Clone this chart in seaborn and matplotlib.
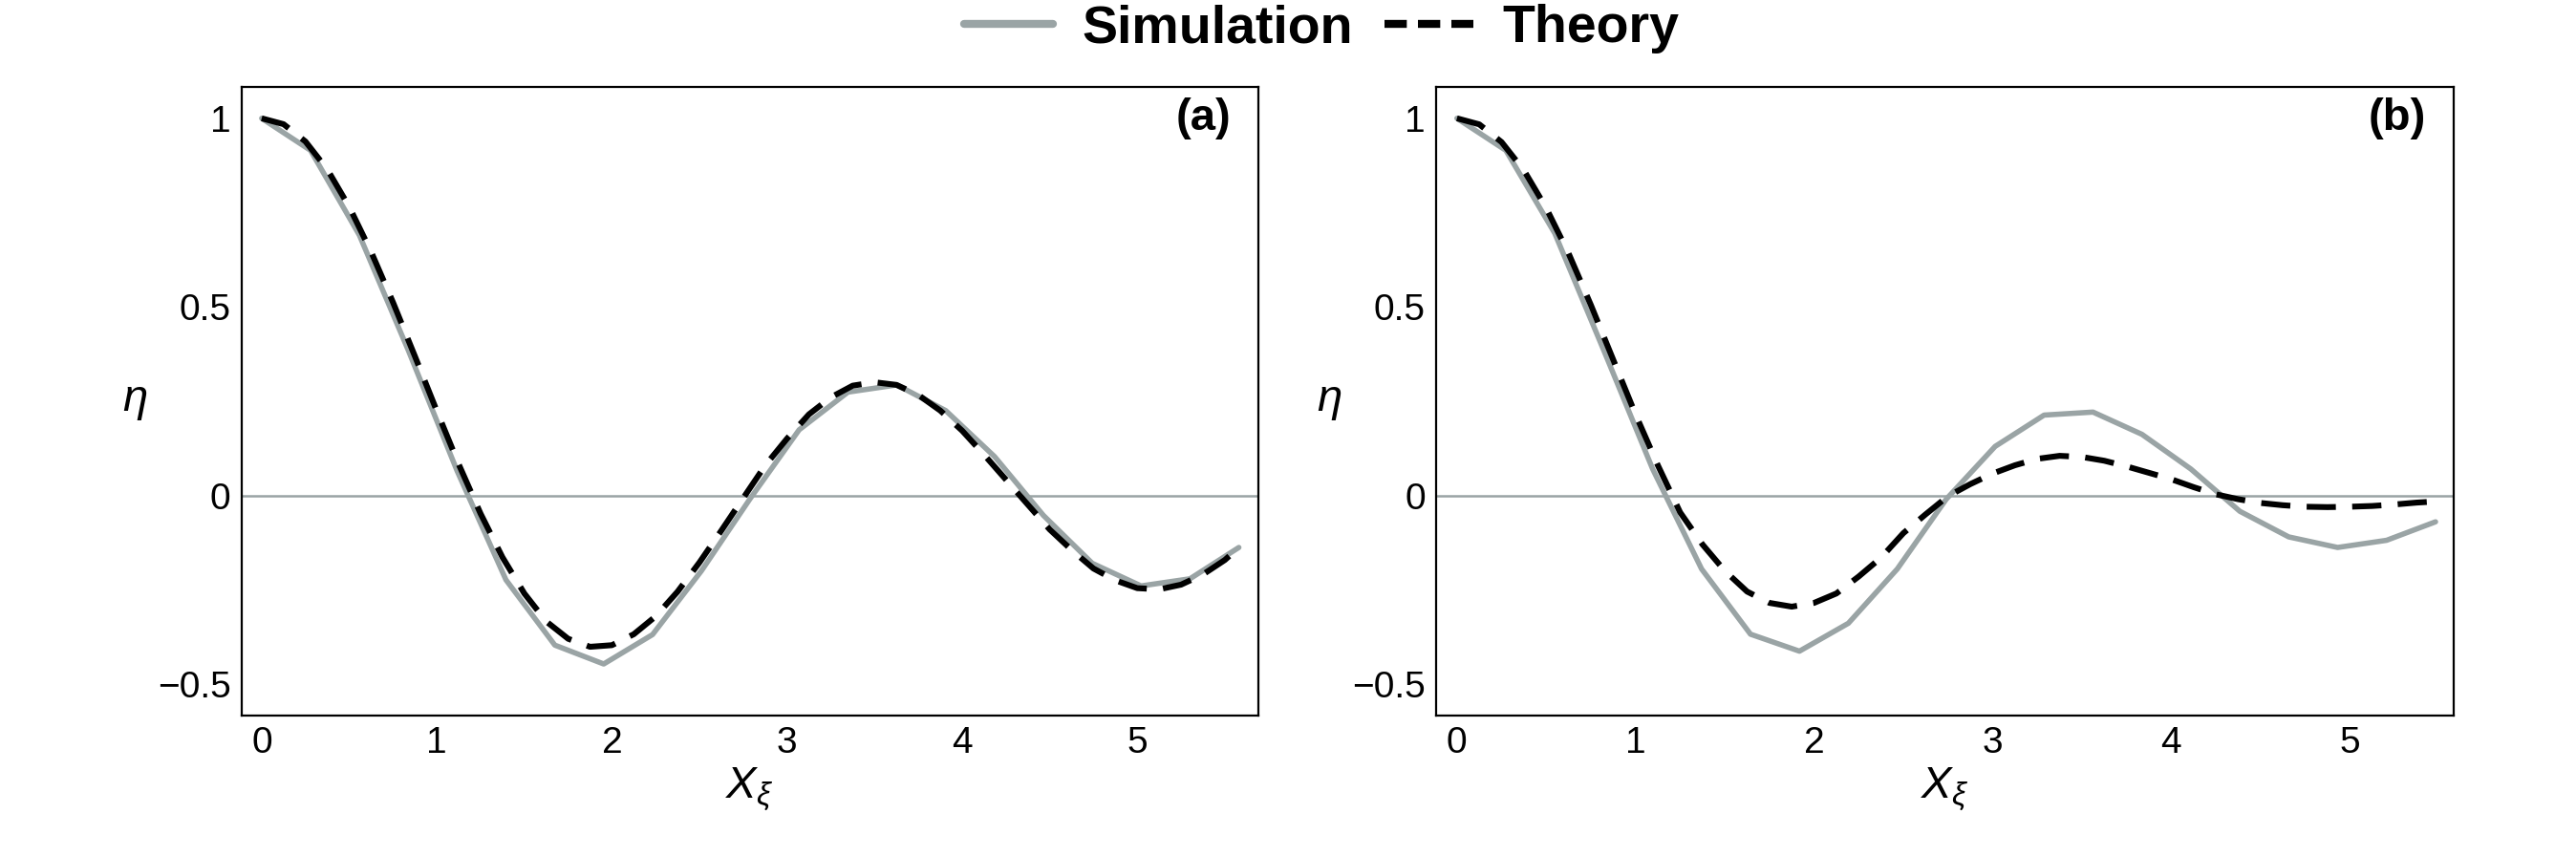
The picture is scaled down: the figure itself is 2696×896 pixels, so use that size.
import matplotlib
matplotlib.use("Agg")
import matplotlib.pyplot as plt
from matplotlib.lines import Line2D
import numpy as np
import pandas as pd
import seaborn as sns

# ---------------- data ----------------
sim_a_x = [0.000, 0.279, 0.558, 0.837, 1.116, 1.395, 1.674, 1.953, 2.232, 2.511, 2.790,
           3.069, 3.348, 3.627, 3.906, 4.185, 4.464, 4.743, 5.022, 5.301, 5.580]
sim_a_y = [1.000, 0.915, 0.690, 0.385, 0.065, -0.224, -0.397, -0.447, -0.369, -0.200, -0.008,
           0.174, 0.274, 0.293, 0.225, 0.103, -0.053, -0.180, -0.240, -0.221, -0.138]

theory_a_x = [0.000, 0.125, 0.250, 0.375, 0.500, 0.625, 0.750, 0.875, 1.000, 1.125, 1.250,
              1.375, 1.500, 1.625, 1.750, 1.875, 2.000, 2.125, 2.250, 2.375, 2.500, 2.625,
              2.750, 2.875, 3.000, 3.125, 3.250, 3.375, 3.500, 3.625, 3.750, 3.875, 4.000,
              4.125, 4.250, 4.375, 4.500, 4.625, 4.750, 4.875, 5.000, 5.125, 5.250, 5.375,
              5.500, 5.580]
theory_a_y = [1.0000, 0.9844, 0.9385, 0.8642, 0.7652, 0.6459, 0.5118, 0.3690, 0.2239, 0.0827,
              -0.0484, -0.1641, -0.2601, -0.3342, -0.3801, -0.4014, -0.3971, -0.3680, -0.3205,
              -0.2551, -0.1776, -0.0931, -0.0068, 0.0792, 0.1506, 0.2150, 0.2601, 0.2911,
              0.3001, 0.2931, 0.2663, 0.2250, 0.1717, 0.1080, 0.0419, -0.0244, -0.0903,
              -0.1446, -0.1939, -0.2252, -0.2459, -0.2490, -0.2366, -0.2096, -0.1712, -0.1380]

sim_b_x = [0.000, 0.274, 0.548, 0.822, 1.096, 1.370, 1.644, 1.918, 2.192, 2.466, 2.740,
           3.014, 3.288, 3.562, 3.836, 4.110, 4.384, 4.658, 4.932, 5.206, 5.480]
sim_b_y = [1.000, 0.915, 0.695, 0.385, 0.070, -0.195, -0.368, -0.413, -0.339, -0.195, -0.010,
           0.130, 0.213, 0.221, 0.162, 0.070, -0.042, -0.110, -0.138, -0.119, -0.070]

theory_b_x = [0.000, 0.125, 0.250, 0.375, 0.500, 0.625, 0.750, 0.875, 1.000, 1.125, 1.250,
              1.375, 1.500, 1.625, 1.750, 1.875, 2.000, 2.125, 2.250, 2.375, 2.500, 2.625,
              2.750, 2.875, 3.000, 3.125, 3.250, 3.375, 3.500, 3.625, 3.750, 3.875, 4.000,
              4.125, 4.250, 4.375, 4.500, 4.625, 4.750, 4.875, 5.000, 5.125, 5.250, 5.375,
              5.480]
theory_b_y = [1.000, 0.984, 0.937, 0.862, 0.762, 0.642, 0.505, 0.360, 0.215, 0.080,
              -0.045, -0.130, -0.200, -0.255, -0.285, -0.295, -0.285, -0.260, -0.215, -0.165,
              -0.100, -0.050, -0.002, 0.030, 0.058, 0.080, 0.097, 0.105, 0.102, 0.092, 0.077,
              0.060, 0.043, 0.022, 0.003, -0.010, -0.020, -0.026, -0.030, -0.031, -0.030,
              -0.028, -0.024, -0.019, -0.016]

x_ticks = [0, 1, 2, 3, 4, 5]
x_tick_labels = ["0", "1", "2", "3", "4", "5"]
y_ticks = [-0.5, 0, 0.5, 1]
y_tick_labels = ["\u22120.5", "0", "0.5", "1"]
panel_labels = ["(a)", "(b)"]
series_labels = ["Simulation", "Theory"]

# ---------------- style ----------------
sns.set_theme(style="white")
plt.rcParams["font.family"] = ["Liberation Sans", "DejaVu Sans"]
plt.rcParams["mathtext.fontset"] = "custom"
plt.rcParams["mathtext.it"] = "Liberation Sans:italic"
plt.rcParams["mathtext.rm"] = "Liberation Sans"
plt.rcParams["text.color"] = "black"
plt.rcParams["axes.labelcolor"] = "black"
plt.rcParams["xtick.color"] = "black"
plt.rcParams["ytick.color"] = "black"

GRAY = "#9AA4A5"
fig = plt.figure(figsize=(13.48, 4.48), dpi=200)
ax_a = fig.add_axes([0.0937, 0.1644, 0.3947, 0.7335])
ax_b = fig.add_axes([0.5574, 0.1644, 0.3950, 0.7335])

panels = [
    (ax_a, sim_a_x, sim_a_y, theory_a_x, theory_a_y, (-0.116, 5.69)),
    (ax_b, sim_b_x, sim_b_y, theory_b_x, theory_b_y, (-0.118, 5.58)),
]

for i, (ax, sx, sy, tx, ty, xlim) in enumerate(panels):
    ax.axhline(0, color=GRAY, lw=0.9, zorder=1)
    df_s = pd.DataFrame({"x": sx, "y": sy})
    df_t = pd.DataFrame({"x": tx, "y": ty})
    sns.lineplot(data=df_s, x="x", y="y", ax=ax, color=GRAY, lw=2.0, sort=False,
                 zorder=2, legend=False)
    sns.lineplot(data=df_t, x="x", y="y", ax=ax, color="black", lw=2.2, sort=False,
                 zorder=3, legend=False)
    ax.lines[-1].set_dashes((5.0, 2.8))
    ax.set_xlim(*xlim)
    ax.set_ylim(-0.583, 1.082)
    ax.set_xticks(x_ticks)
    ax.set_xticklabels(x_tick_labels)
    ax.set_yticks(y_ticks)
    ax.set_yticklabels(y_tick_labels)
    ax.tick_params(axis="both", which="both", direction="in", length=2.9, width=0.7,
                   colors="black", labelsize=14, top=False, right=False, pad=4)
    for s in ax.spines.values():
        s.set_visible(True)
        s.set_color("black")
        s.set_linewidth(0.8)
    ax.set_xlabel(r"$X_{\xi}$", fontsize=17, color="black")
    ax.xaxis.set_label_coords(0.5, -0.08)
    ax.xaxis.label.set_va("top")
    ax.set_ylabel(r"$\eta$", fontsize=17, rotation=0, color="black")
    ax.yaxis.set_label_coords(-0.105, 0.5)
    ax.yaxis.label.set_va("center")
    ax.yaxis.label.set_ha("center")
    ax.text(0.973, 0.984, panel_labels[i], transform=ax.transAxes, ha="right", va="top",
            fontsize=17, fontweight="bold", color="black")
    ax.grid(False)

leg_handles = [
    Line2D([], [], color=GRAY, lw=3.0),
    Line2D([], [], color="black", lw=3.0, dashes=(2.8, 1.4)),
]
fig.legend(leg_handles, series_labels, loc="center", bbox_to_anchor=(0.513, 0.966), ncol=2,
           frameon=False, prop={"weight": "bold", "size": 20}, handlelength=1.67,
           handletextpad=0.55, columnspacing=0.6, borderaxespad=0)

fig.savefig("out.png", dpi=200, facecolor="white")
